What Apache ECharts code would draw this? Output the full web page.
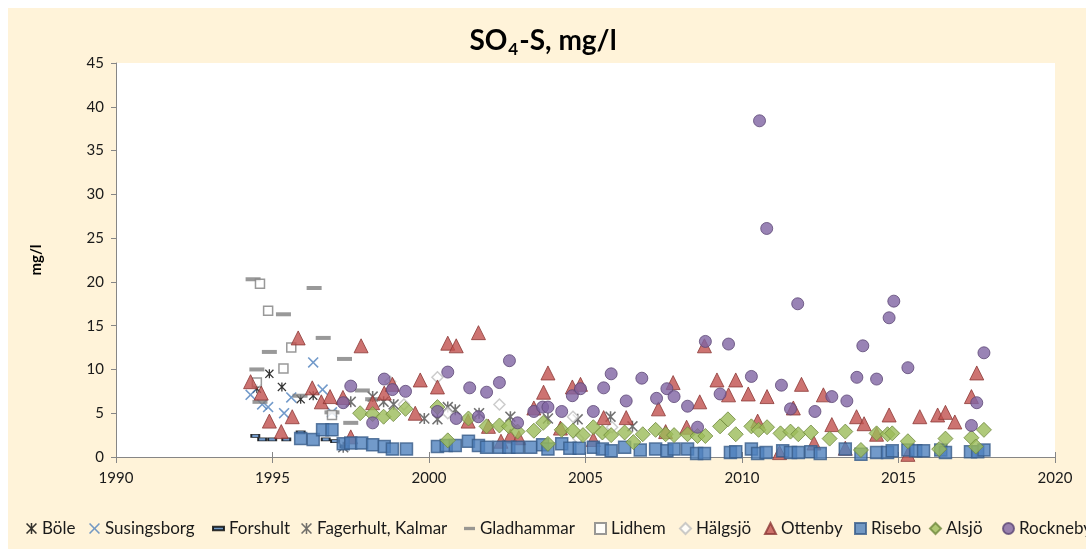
<!DOCTYPE html>
<html>
<head>
<meta charset="utf-8">
<script src="https://cdn.jsdelivr.net/npm/echarts@6/dist/echarts.min.js"></script>
<style>
  html, body { margin: 0; padding: 0; background: #ffffff; }
  #chart { width: 1086px; height: 554px; }
</style>
</head>
<body>
<div id="chart"></div>
<script>
// SO4-S concentrations (mg/l) per station, as [decimal year, value]
const bole = [[1994.5,7.8],[1994.9,9.5],[1995.3,8.0],[1995.9,6.6],[1996.3,7.0]];
const susingsborg = [[1994.3,7.1],[1994.67,6.0],[1994.86,5.7],[1995.37,5.0],[1995.6,6.8],[1996.3,10.8],[1996.6,7.7],[1996.9,5.1]];
const forshult = [[1994.45,2.4],[1994.67,2.0],[1994.99,2.0],[1995.44,2.0],[1995.9,2.8],[1996.7,2.0],[1997.0,1.8],[1997.3,1.2]];
const fagerhult = [[1997.26,1.1],[1997.5,6.3],[1998.2,6.9],[1998.55,6.3],[1998.87,6.0],[1999.85,4.4],[2000.27,4.3],[2000.6,5.7],[2000.84,5.4],[2001.6,5.0],[2002.6,4.6],[2003.8,4.4],[2004.75,4.3],[2005.8,4.6],[2006.5,3.5]];
const gladhammar = [[1994.38,20.3],[1994.5,10.0],[1994.6,6.3],[1994.9,12.0],[1995.35,16.3],[1995.88,7.0],[1996.33,19.3],[1996.62,13.6],[1996.9,5.1],[1997.3,11.2],[1997.5,3.9],[1997.87,7.6],[1998.2,6.6]];
const lidhem = [[1994.5,8.5],[1994.6,19.8],[1994.86,16.7],[1995.35,10.1],[1995.6,12.5],[1996.9,4.8]];
const halgsjo = [[1998.76,8.6],[1999.2,6.0],[2000.27,9.1],[2000.6,5.0],[2002.25,6.0],[2004.6,4.6],[2004.77,2.1],[2005.85,3.4]];
const ottenby = [[1994.3,8.6],[1994.64,7.3],[1994.9,4.1],[1995.28,2.9],[1995.63,4.6],[1995.82,13.6],[1996.27,7.9],[1996.56,6.3],[1996.84,6.9],[1997.25,6.8],[1997.5,2.3],[1997.83,12.7],[1998.2,6.2],[1998.57,7.3],[1998.83,8.3],[1999.56,5.0],[1999.72,8.8],[2000.27,8.0],[2000.6,13.0],[2000.87,12.7],[2001.25,4.1],[2001.58,14.2],[2001.9,3.5],[2002.3,1.8],[2002.6,2.4],[2002.87,2.2],[2003.35,5.6],[2003.66,7.4],[2003.8,9.6],[2004.2,3.3],[2004.58,8.0],[2004.84,8.3],[2005.25,2.0],[2005.58,4.5],[2006.3,4.5],[2007.33,5.5],[2007.56,2.9],[2007.8,8.5],[2008.23,3.4],[2008.65,6.3],[2008.8,12.7],[2009.2,8.8],[2009.57,7.1],[2009.8,8.8],[2010.2,7.2],[2010.5,4.1],[2010.8,6.9],[2011.2,0.5],[2011.64,5.6],[2011.9,8.3],[2012.3,1.6],[2012.6,7.1],[2012.87,3.7],[2013.3,1.0],[2013.66,4.6],[2013.9,3.8],[2014.3,2.6],[2014.7,4.8],[2015.3,0.3],[2015.68,4.6],[2016.25,4.8],[2016.5,5.1],[2016.8,4.0],[2017.33,6.9],[2017.5,9.6]];
const risebo = [[1995.9,2.1],[1996.3,2.0],[1996.6,3.1],[1996.9,3.1],[1997.26,1.5],[1997.5,1.6],[1997.85,1.6],[1998.2,1.4],[1998.57,1.2],[1998.83,0.9],[1999.28,0.9],[2000.27,1.2],[2000.55,1.3],[2000.84,1.3],[2001.26,1.8],[2001.58,1.3],[2001.84,1.1],[2002.25,1.1],[2002.55,1.1],[2002.83,1.1],[2003.25,1.1],[2003.63,1.4],[2003.8,0.9],[2004.24,1.5],[2004.5,1.0],[2004.8,1.0],[2005.25,1.1],[2005.54,0.9],[2005.82,0.7],[2006.25,1.1],[2006.75,0.8],[2007.24,0.9],[2007.6,0.7],[2007.83,0.9],[2008.26,0.9],[2008.55,0.4],[2008.8,0.4],[2009.63,0.5],[2009.8,0.6],[2010.3,0.9],[2010.5,0.4],[2010.77,0.5],[2011.3,0.7],[2011.55,0.5],[2011.8,0.5],[2012.2,0.6],[2012.5,0.4],[2013.3,0.9],[2013.8,0.3],[2014.3,0.5],[2014.65,0.5],[2014.8,0.7],[2015.3,0.8],[2015.55,0.7],[2015.8,0.7],[2016.35,0.8],[2016.5,0.5],[2017.3,0.6],[2017.53,0.6],[2017.73,0.8]];
const alsjo = [[1997.8,5.0],[1998.2,4.9],[1998.55,4.6],[1998.86,4.9],[1999.25,5.5],[2000.27,5.7],[2000.6,1.9],[2001.26,4.4],[2001.84,3.5],[2002.25,3.6],[2002.55,3.5],[2002.83,2.9],[2003.35,3.0],[2003.65,3.9],[2003.8,1.5],[2004.24,3.1],[2004.6,3.0],[2004.92,2.5],[2005.25,3.4],[2005.54,2.8],[2005.82,2.5],[2006.25,2.8],[2006.53,1.7],[2006.83,2.6],[2007.24,3.1],[2007.56,2.6],[2007.83,2.5],[2008.26,2.6],[2008.58,2.4],[2008.83,2.4],[2009.3,3.5],[2009.55,4.3],[2009.8,2.6],[2010.3,3.5],[2010.53,3.1],[2010.8,3.4],[2011.23,2.7],[2011.55,2.9],[2011.8,2.6],[2012.2,2.8],[2012.8,2.1],[2013.3,2.9],[2013.8,0.8],[2014.3,2.7],[2014.65,2.6],[2014.8,2.7],[2015.3,1.8],[2016.3,0.9],[2016.5,2.1],[2017.33,2.2],[2017.47,1.2],[2017.73,3.1]];
const rockneby = [[1997.26,6.2],[1997.5,8.1],[1998.2,3.9],[1998.57,8.9],[1998.83,7.7],[1999.25,7.5],[2000.27,5.2],[2000.6,9.7],[2000.87,4.4],[2001.3,7.9],[2001.58,4.6],[2001.84,7.4],[2002.25,8.5],[2002.57,11.0],[2002.83,3.9],[2003.35,5.2],[2003.63,5.7],[2003.8,5.7],[2004.24,5.2],[2004.58,7.0],[2004.84,7.8],[2005.25,5.2],[2005.58,7.9],[2005.82,9.5],[2006.3,6.4],[2006.8,9.0],[2007.27,6.7],[2007.6,7.8],[2007.83,6.9],[2008.26,5.8],[2008.58,3.4],[2008.83,13.2],[2009.3,7.2],[2009.57,12.9],[2010.3,9.2],[2010.56,38.4],[2010.79,26.1],[2011.26,8.2],[2011.55,5.5],[2011.78,17.5],[2012.33,5.2],[2012.87,6.9],[2013.35,6.4],[2013.67,9.1],[2013.86,12.7],[2014.3,8.9],[2014.7,15.9],[2014.85,17.8],[2015.3,10.2],[2017.33,3.6],[2017.5,6.2],[2017.73,11.9]];

const stationNames = ['Böle','Susingsborg','Forshult','Fagerhult, Kalmar','Gladhammar','Lidhem','Hälgsjö','Ottenby','Risebo','Alsjö','Rockneby'];
const stationData = [bole, susingsborg, forshult, fagerhult, gladhammar, lidhem, halgsjo, ottenby, risebo, alsjo, rockneby];
const xTicks = { min: 1990, max: 2020, step: 5 };
const yTicks = { min: 0, max: 45, step: 5 };

// horizontal placement of each legend entry (left edge of its icon, px)
const legendLeft = [26, 89, 212, 301, 464, 594, 679, 764, 854, 929, 1002];

// marker shapes
const crossPath = 'path://M0,1 L1,0 L5,4 L9,0 L10,1 L6,5 L10,9 L9,10 L5,6 L1,10 L0,9 L4,5 Z';
const starPath = 'path://M0,1 L1,0 L5,4 L9,0 L10,1 L6,5 L10,9 L9,10 L5,6 L1,10 L0,9 L4,5 Z M4.3,0 L5.7,0 L5.7,10 L4.3,10 Z';
const dashPath = 'path://M0,0 L10,0 L10,3 L0,3 Z';

const markerStyles = [
  { symbol: starPath, symbolSize: 9, itemStyle: { color: '#000000' } },
  { symbol: crossPath, symbolSize: 11, itemStyle: { color: '#4F81BD' } },
  { symbol: 'rect', symbolSize: [8, 3], itemStyle: { color: '#4F81BD', borderColor: '#000000', borderWidth: 1.2 } },
  { symbol: starPath, symbolSize: 11, itemStyle: { color: '#4D4D4D' } },
  { symbol: 'rect', symbolSize: [15, 4], itemStyle: { color: '#7F7F7F' } },
  { symbol: 'rect', symbolSize: 9, itemStyle: { color: '#FFFFFF', borderColor: '#7F7F7F', borderWidth: 1.5 } },
  { symbol: 'diamond', symbolSize: 11, itemStyle: { color: '#FFFFFF', borderColor: '#BFBFBF', borderWidth: 1.5 } },
  { symbol: 'triangle', symbolSize: 14, itemStyle: { color: '#C0504D', borderColor: '#8C3836', borderWidth: 1 } },
  { symbol: 'rect', symbolSize: 12, itemStyle: { color: '#4F81BD', borderColor: '#385D8A', borderWidth: 1.5 } },
  { symbol: 'diamond', symbolSize: 15, itemStyle: { color: '#9BBB59', borderColor: '#71893F', borderWidth: 1 } },
  { symbol: 'circle', symbolSize: 12, itemStyle: { color: '#8064A2', borderColor: '#5C4776', borderWidth: 1 } }
];
const legendIcons = { 'Forshult': dashPath, 'Gladhammar': dashPath };

const FONT = 'Lato, "Open Sans", sans-serif';

const series = stationNames.map((name, i) => Object.assign({
  name: name,
  type: 'scatter',
  data: stationData[i],
  animation: false
}, markerStyles[i]));

// one legend block per station so every entry sits at its own position
const legends = stationNames.map((n, i) => ({
  data: [legendIcons[n] ? { name: n, icon: legendIcons[n] } : { name: n }],
  left: legendLeft[i], top: 520, padding: 0,
  itemWidth: 11, itemHeight: 11,
  textStyle: { fontFamily: FONT, fontSize: 17, color: '#1A1A1A' }
}));

const chart = echarts.init(document.getElementById('chart'), null, { renderer: 'canvas' });
chart.setOption({
  backgroundColor: '#FFFFFF',
  textStyle: { fontFamily: FONT },
  graphic: [{
    type: 'rect', z: -10, silent: true,
    shape: { x: 8, y: 8, width: 1078, height: 541 },
    style: { fill: '#FFF3D9' }
  }],
  title: {
    text: '{a|SO}{b|4}{a|-S, mg/l}',
    left: 'center', top: 18,
    textStyle: {
      rich: {
        a: { fontFamily: FONT, fontSize: 28, fontWeight: 'bold', color: '#000' },
        b: { fontFamily: FONT, fontSize: 17, fontWeight: 'bold', color: '#000', padding: [18, 1, 0, 1] }
      }
    }
  },
  grid: { left: 116, right: 31, top: 63, bottom: 97, show: true, backgroundColor: '#FFFFFF', borderWidth: 0 },
  legend: legends,
  xAxis: [{
    type: 'value', min: xTicks.min, max: xTicks.max, interval: xTicks.step,
    axisLine: { show: true, lineStyle: { color: '#868686', width: 1 } },
    axisTick: { show: true, length: 6, lineStyle: { color: '#868686' } },
    axisLabel: { fontFamily: FONT, fontSize: 15, color: '#1A1A1A', margin: 14, formatter: v => String(v) },
    splitLine: { show: false }
  }, {
    type: 'value', position: 'bottom', min: xTicks.min, max: xTicks.max, interval: xTicks.step,
    axisLine: { show: false },
    axisTick: { show: true, inside: true, length: 5, lineStyle: { color: '#868686' } },
    axisLabel: { show: false },
    splitLine: { show: false }
  }],
  yAxis: {
    type: 'value', min: yTicks.min, max: yTicks.max, interval: yTicks.step,
    name: 'mg/l', nameLocation: 'middle', nameGap: 72, nameRotate: 90,
    nameTextStyle: { fontFamily: FONT, fontSize: 15, fontWeight: 'bold', color: '#000' },
    axisLine: { show: true, lineStyle: { color: '#868686', width: 1 } },
    axisTick: { show: true, length: 5, lineStyle: { color: '#868686' } },
    axisLabel: { fontFamily: FONT, fontSize: 15, color: '#1A1A1A', margin: 12 },
    splitLine: { show: false }
  },
  series: series
});
</script>
</body>
</html>
